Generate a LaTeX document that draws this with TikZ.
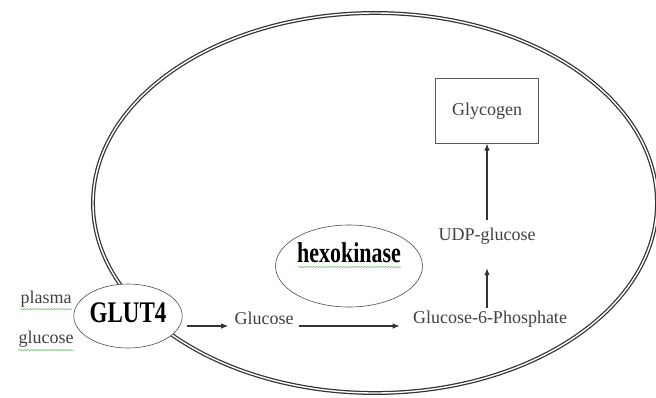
\documentclass[tikz,border=0pt]{standalone}
\usepackage{fontspec}
\setmainfont{Liberation Serif}
\usepackage{graphicx}
\usepackage{tikz}
\usetikzlibrary{shapes.geometric, arrows.meta, decorations.pathmorphing, positioning, calc}
\definecolor{squig}{RGB}{120,190,120}
\newcommand{\tallbold}[1]{\scalebox{1}[1.3]{\bfseries #1}}

\begin{document}
\begin{tikzpicture}[x=1pt, y=-1pt,
            style = {semithick},
            txt/.style = {inner sep=2pt, text=black!75, font=\fontsize{18}{20}\selectfont},
            enzyme/.style = {draw=black!70, ellipse, fill=white, inner sep=0pt},
            store/.style = {draw=black!65, inner sep=2pt, text=black!75, font=\fontsize{18}{20}\selectfont,
                minimum width=103pt, minimum height=65pt},
            membrane/.style = {draw=black!80, double=white, line width=1.25pt, double distance=1.4pt},
            flow/.style = {-{Latex[length=7pt, width=5.5pt]}, draw=black!80, line width=1.1pt},
            squiggle/.style = {draw=squig, line width=0.6pt, decorate,
                decoration={snake, amplitude=0.6pt, segment length=3pt}}]
            \useasboundingbox (0,0) rectangle (656,397);
            \draw[membrane] (375,203) ellipse [x radius=282pt, y radius=190pt];
            \node (glut) [enzyme, minimum width=108pt, minimum height=64pt, text depth=6pt,
                font=\fontsize{23}{24}\selectfont] at (128,316) {\tallbold{GLUT4}};
            \node (hexo) [enzyme, minimum width=142pt, minimum height=82pt, text depth=27pt,
                font=\fontsize{22}{24}\selectfont] at (349,266) {\tallbold{hexokinase}};
            \node (plasma) [txt, anchor=base] at (46,303) {plasma};
            \node (plasmaglc) [txt, below=20pt of plasma] {glucose};
            \node (gluc) [txt, anchor=base] at (264,324) {Glucose};
            \node (g6p) [txt, anchor=base] at (490,323) {Glucose-6-Phosphate};
            \node (udp) [txt, anchor=base] at (487,240) {UDP-glucose};
            \node (glyc) [store, anchor=base] at (487,115) {Glycogen};
            \draw[flow] ($(glut.east |- gluc.base)+(4,2)$) -- ($(gluc.base west)+(-4,2)$);
            \draw[flow] ($(gluc.base east)+(3,2)$) -- ($(g6p.base west |- gluc.base)+(-11,2)$);
            \draw[flow] (g6p.north -| udp.south) -- ($(udp.south)+(0,22)$);
            \draw[flow] ($(udp.north)+(0,-5)$) -- (glyc.south);
            \draw[squiggle] ([xshift=2pt]plasma.south west) -- ([xshift=-2pt]plasma.south east);
            \draw[squiggle] ([xshift=2pt]plasmaglc.south west) -- ([xshift=-2pt]plasmaglc.south east);
            \draw[squiggle] ($(hexo.center)+(-51,1)$) -- ($(hexo.center)+(52,1)$);
\end{tikzpicture}
\end{document}
